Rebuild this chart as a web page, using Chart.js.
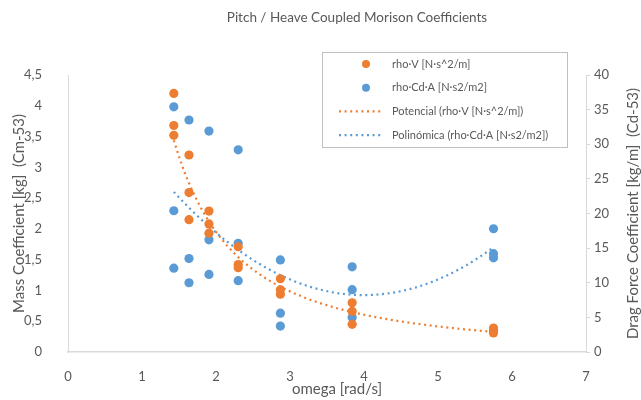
<!DOCTYPE html>
<html>
<head>
<meta charset="utf-8">
<script src="https://cdn.jsdelivr.net/npm/chart.js@4.4.1/dist/chart.umd.min.js"></script>
<style>
  html, body { margin: 0; padding: 0; background: #fff; }
</style>
</head>
<body>
<canvas id="chart" width="641" height="400"></canvas>
<script>
// ==================== data ====================
const chartTitle = 'Pitch / Heave Coupled Morison Coefficients';
const xTitle = 'omega [rad/s]';
const yLTitle = 'Mass Coefficient [kg]  (Cm-53)';
const yRTitle = 'Drag Force Coefficient [kg/m]  (Cd-53)';

// rho·V (left axis)
const omegaV = [1.43, 1.43, 1.43, 1.635, 1.635, 1.635, 1.905, 1.905, 1.905, 2.30, 2.30, 2.30,
                2.87, 2.87, 2.87, 3.84, 3.84, 3.84, 5.75, 5.75, 5.75];
const rhoV   = [4.20, 3.68, 3.52, 3.20, 2.59, 2.15, 2.29, 2.08, 1.93, 1.71, 1.42, 1.37,
                1.19, 1.01, 0.94, 0.80, 0.66, 0.45, 0.39, 0.35, 0.31];

// rho·Cd·A (right axis)
const omegaD  = [1.43, 1.43, 1.43, 1.635, 1.635, 1.635, 1.905, 1.905, 1.905, 2.30, 2.30, 2.30,
                 2.87, 2.87, 2.87, 3.84, 3.84, 3.84, 5.75, 5.75, 5.75];
const rhoCdA  = [35.4, 20.4, 12.1, 33.5, 13.5, 10.0, 31.9, 16.2, 11.2, 29.2, 15.7, 10.3,
                 13.3, 5.6, 3.75, 12.3, 9.0, 5.0, 17.8, 14.2, 13.6];

const xTicks  = [0, 1, 2, 3, 4, 5, 6, 7];
const yLTicks = [0, 0.5, 1, 1.5, 2, 2.5, 3, 3.5, 4, 4.5];
const yRTicks = [0, 5, 10, 15, 20, 25, 30, 35, 40];

const labelV   = 'rho·V [N·s^2/m]';
const labelD   = 'rho·Cd·A [N·s2/m2]';
const labelPow = 'Potencial (rho·V [N·s^2/m])';
const labelPol = 'Polinómica (rho·Cd·A [N·s2/m2])';

const ORANGE = '#ED7D31';
const BLUE = '#5B9BD5';
const TXT = '#595959';
const AXIS = '#d9d9d9';
const FONT = 'Lato, "Open Sans", sans-serif';

// ==================== trend lines (Excel-style fits) ====================
// power fit y = a*x^b via ln-ln least squares
function powerFit(xs, ys) {
    const n = xs.length;
    let sx = 0, sy = 0, sxx = 0, sxy = 0;
    for (let i = 0; i < n; i++) {
        const lx = Math.log(xs[i]), ly = Math.log(ys[i]);
        sx += lx; sy += ly; sxx += lx * lx; sxy += lx * ly;
    }
    const b = (n * sxy - sx * sy) / (n * sxx - sx * sx);
    const a = Math.exp((sy - b * sx) / n);
    return x => a * Math.pow(x, b);
}

// 2nd order polynomial least squares
function polyFit2(xs, ys) {
    let s0 = xs.length, s1 = 0, s2 = 0, s3 = 0, s4 = 0, t0 = 0, t1 = 0, t2 = 0;
    for (let i = 0; i < xs.length; i++) {
        const x = xs[i], y = ys[i];
        s1 += x; s2 += x * x; s3 += x ** 3; s4 += x ** 4;
        t0 += y; t1 += x * y; t2 += x * x * y;
    }
    // normal equations, Cramer's rule
    const det = (m) => m[0][0] * (m[1][1] * m[2][2] - m[1][2] * m[2][1])
                     - m[0][1] * (m[1][0] * m[2][2] - m[1][2] * m[2][0])
                     + m[0][2] * (m[1][0] * m[2][1] - m[1][1] * m[2][0]);
    const M = [[s0, s1, s2], [s1, s2, s3], [s2, s3, s4]];
    const T = [t0, t1, t2];
    const D = det(M);
    const coef = [0, 1, 2].map(k => det(M.map((row, r) => row.map((v, c) => c === k ? T[r] : v))) / D);
    return x => coef[0] + coef[1] * x + coef[2] * x * x;
}

function sampleCurve(fn, xs) {
    const lo = Math.min(...xs), hi = Math.max(...xs);
    const out = [];
    for (let i = 0; i <= 60; i++) {
        const x = lo + (hi - lo) * i / 60;
        out.push({ x: x, y: fn(x) });
    }
    return out;
}

const powCurve = sampleCurve(powerFit(omegaV, rhoV), omegaV);
const polCurve = sampleCurve(polyFit2(omegaD, rhoCdA), omegaD);

// ==================== plugins ====================
// Excel-like legend box inside the plot area
const legendBox = {
    id: 'legendBox',
    afterDraw(chart) {
        const ctx = chart.ctx;
        const ds = chart.data.datasets;
        const box = { x: 322.5, y: 52.5, w: 245, h: 95 };
        ctx.save();
        ctx.fillStyle = '#fff';
        ctx.fillRect(box.x, box.y, box.w, box.h);
        ctx.strokeStyle = '#bfbfbf';
        ctx.lineWidth = 1;
        ctx.strokeRect(box.x, box.y, box.w, box.h);
        ctx.font = '11px ' + FONT;
        ctx.textBaseline = 'middle';
        ds.forEach((d, i) => {
            const cy = 64 + i * 23.7;
            if (d.showLine) {
                ctx.strokeStyle = d.borderColor;
                ctx.lineWidth = 2.2;
                ctx.setLineDash([2, 3.6]);
                ctx.beginPath();
                ctx.moveTo(339, cy);
                ctx.lineTo(382, cy);
                ctx.stroke();
                ctx.setLineDash([]);
            } else {
                ctx.fillStyle = d.backgroundColor;
                ctx.beginPath();
                ctx.arc(366, cy, 4, 0, Math.PI * 2);
                ctx.fill();
            }
            ctx.fillStyle = TXT;
            ctx.fillText(d.label, 392, cy);
        });
        ctx.restore();
    }
};

// titles placed the way the Excel chart has them
const titles = {
    id: 'titles',
    afterDraw(chart) {
        const ctx = chart.ctx;
        const a = chart.chartArea;
        const midY = (a.top + a.bottom) / 2;
        ctx.save();
        ctx.fillStyle = TXT;
        ctx.textAlign = 'center';
        ctx.textBaseline = 'middle';

        ctx.font = '13.5px ' + FONT;
        ctx.fillText(chartTitle, 357, 18);

        ctx.font = '15px ' + FONT;
        ctx.fillText(xTitle, 337, 389);

        ctx.save();
        ctx.translate(19, midY);
        ctx.rotate(-Math.PI / 2);
        ctx.fillText(yLTitle, 0, 0);
        ctx.restore();

        ctx.translate(633, midY);
        ctx.rotate(-Math.PI / 2);
        ctx.fillText(yRTitle, 0, 0);
        ctx.restore();
    }
};

// ==================== chart ====================
const ctx = document.getElementById('chart');
new Chart(ctx, {
    type: 'scatter',
    data: {
        datasets: [{
            label: labelV,
            data: omegaV.map((x, i) => ({ x: x, y: rhoV[i] })),
            yAxisID: 'y',
            backgroundColor: ORANGE,
            borderColor: ORANGE,
            pointRadius: 4.6,
            pointBorderWidth: 0,
            order: 1
        }, {
            label: labelD,
            data: omegaD.map((x, i) => ({ x: x, y: rhoCdA[i] })),
            yAxisID: 'y2',
            backgroundColor: BLUE,
            borderColor: BLUE,
            pointRadius: 4.6,
            pointBorderWidth: 0,
            order: 1
        }, {
            label: labelPow,
            data: powCurve,
            yAxisID: 'y',
            showLine: true,
            borderColor: ORANGE,
            backgroundColor: ORANGE,
            borderWidth: 2.2,
            borderDash: [2, 3.6],
            pointRadius: 0,
            fill: false,
            order: 2
        }, {
            label: labelPol,
            data: polCurve,
            yAxisID: 'y2',
            showLine: true,
            borderColor: BLUE,
            backgroundColor: BLUE,
            borderWidth: 2.2,
            borderDash: [2, 3.6],
            pointRadius: 0,
            fill: false,
            order: 2
        }]
    },
    options: {
        responsive: false,
        animation: false,
        layout: { padding: { top: 75 } },
        plugins: {
            legend: { display: false },
            tooltip: { enabled: false },
            title: { display: false }
        },
        scales: {
            x: {
                type: 'linear',
                min: 0,
                max: 7,
                afterBuildTicks: s => { s.ticks = xTicks.map(v => ({ value: v })); },
                afterFit: s => { s.height = 48; },
                grid: { display: false },
                border: { color: AXIS, width: 1.5 },
                ticks: { color: TXT, font: { family: FONT, size: 13 }, padding: 9 }
            },
            y: {
                position: 'left',
                min: 0,
                max: 4.5,
                afterBuildTicks: s => { s.ticks = yLTicks.map(v => ({ value: v })); },
                afterFit: s => { s.width = 68; },
                grid: { display: false },
                border: { color: AXIS, width: 1 },
                ticks: {
                    color: TXT,
                    font: { family: FONT, size: 13 },
                    padding: 18,
                    callback: v => String(v).replace('.', ',')
                }
            },
            y2: {
                position: 'right',
                min: 0,
                max: 40,
                afterBuildTicks: s => { s.ticks = yRTicks.map(v => ({ value: v })); },
                afterFit: s => { s.width = 55; },
                grid: { drawOnChartArea: false, drawTicks: true, tickLength: 4, color: AXIS },
                border: { color: AXIS, width: 1 },
                ticks: { color: TXT, font: { family: FONT, size: 13 }, padding: 4 }
            }
        }
    },
    plugins: [legendBox, titles]
});
</script>
</body>
</html>
